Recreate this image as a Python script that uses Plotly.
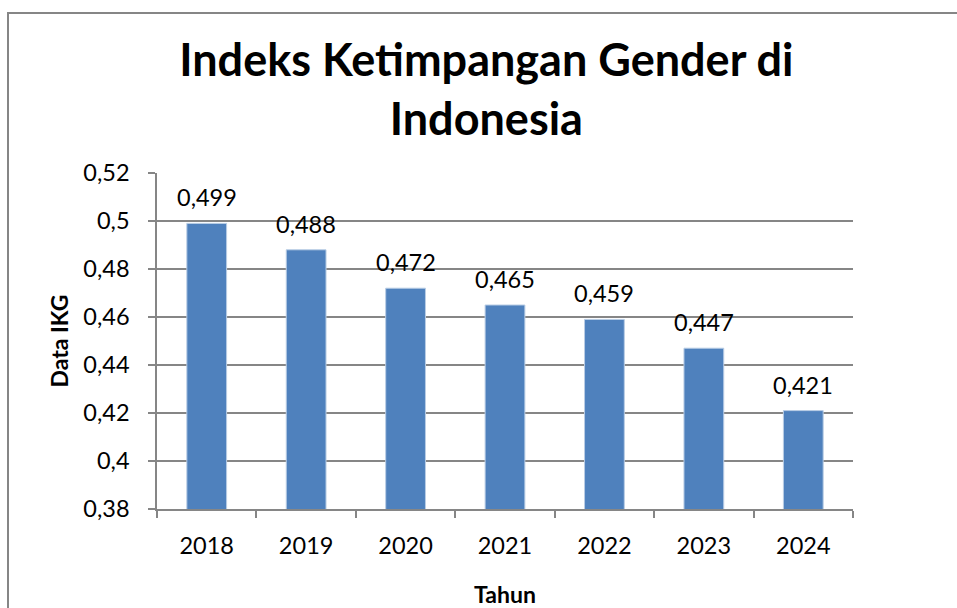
import plotly.graph_objects as go

years = ["2018", "2019", "2020", "2021", "2022", "2023", "2024"]
ikg = [0.499, 0.488, 0.472, 0.465, 0.459, 0.447, 0.421]
y_ticks = [0.38, 0.40, 0.42, 0.44, 0.46, 0.48, 0.50, 0.52]
y_tick_labels = ["0,38", "0,4", "0,42", "0,44", "0,46", "0,48", "0,5", "0,52"]
title_text = "Indeks Ketimpangan Gender di<br>Indonesia"
x_title = "Tahun"
y_title = "Data IKG"

W, H = 957, 608
L, R, T, B = 157, 104, 173, 99
pw, ph = W - L - R, H - T - B

FONT = "Lato"
GRID = "#868686"
TS = 23.5

fig = go.Figure()
fig.add_trace(go.Bar(
    x=years, y=ikg,
    marker=dict(color="#4F81BD", line=dict(color="#b9cde5", width=1)),
    width=0.4,
    hoverinfo="x+y",
))

annotations = []
for i, v in enumerate(ikg):
    annotations.append(dict(
        x=i, y=v, xref="x", yref="y",
        text=f"{v:.3f}".replace(".", ","),
        showarrow=False, yanchor="middle", yshift=26,
        font=dict(family=FONT, size=TS, color="black"),
    ))

# chart-area border (only top and left edges fall inside the picture)
x0 = (8 - L) / pw
x1 = (W + 10 - L) / pw
ytop = (H - B - 13) / ph
ybot = (H - B - (H + 10)) / ph

fig.update_layout(
    width=W, height=H,
    margin=dict(l=L, r=R, t=T, b=B, autoexpand=False),
    paper_bgcolor="white", plot_bgcolor="white",
    separators=",.",
    showlegend=False,
    title=dict(
        text=title_text,
        x=0.5 * (W + 8) / W + 0.004, xanchor="center", xref="container",
        y=1 - 76 / H, yanchor="top", yref="container",
        font=dict(family=FONT, size=45, color="black", weight="bold"),
    ),
    xaxis=dict(
        type="category",
        range=[-0.5, len(years) - 0.5],
        showgrid=False,
        showline=True, linecolor=GRID, linewidth=1.5,
        ticks="outside", tickson="boundaries", ticklen=7, tickcolor=GRID, tickwidth=1.5,
        ticklabelstandoff=15,
        tickangle=0,
        tickfont=dict(family=FONT, size=TS, color="black"),
        title=dict(text=x_title, font=dict(family=FONT, size=23, color="black", weight="bold"), standoff=30),
    ),
    yaxis=dict(
        range=[0.38, 0.52],
        tickvals=y_ticks, ticktext=y_tick_labels,
        showgrid=True, gridcolor=GRID, gridwidth=1.5,
        showline=True, linecolor=GRID, linewidth=1.5,
        zeroline=False,
        ticks="outside", ticklen=7, tickcolor=GRID, tickwidth=1.5,
        ticklabelstandoff=14,
        tickfont=dict(family=FONT, size=TS, color="black"),
        title=dict(text=y_title, font=dict(family=FONT, size=23, color="black", weight="bold"), standoff=8),
    ),
    annotations=annotations,
    shapes=[dict(type="rect", xref="paper", yref="paper",
                 x0=x0, x1=x1, y0=ybot, y1=ytop,
                 line=dict(color=GRID, width=2), fillcolor="rgba(0,0,0,0)", layer="below")],
)

fig.write_html("out.html")
